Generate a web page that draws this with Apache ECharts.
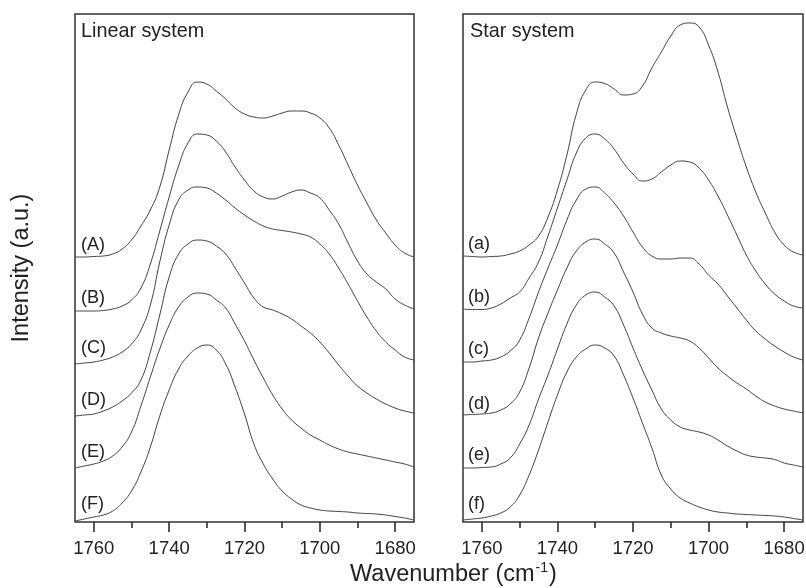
<!doctype html>
<html>
<head>
<meta charset="utf-8">
<title>FTIR carbonyl region</title>
<script src="https://cdn.jsdelivr.net/npm/echarts@6.0.0/dist/echarts.min.js"></script>
<style>
    html,body{
        margin: 0;
        padding: 0;
        background: #fff;
    }
    #chart{
        width: 806px;
        height: 588px;
    }
</style>
</head>
<body>
    <div id="chart"></div>
<script>
    // wavenumber grid (cm-1), read every 2.5 cm-1
    var wavenumber = [1765,1762.5,1760,1757.5,1755,1752.5,1750,1747.5,1745,1742.5,1740,1737.5,1735,1732.5,1730,1727.5,1725,1722.5,1720,1717.5,1715,1712.5,1710,1707.5,1705,1702.5,1700,1697.5,1695,1692.5,1690,1687.5,1685,1682.5,1680,1677.5,1675];
    var majorTicks = [1760,1740,1720,1700,1680];
    var minorTicks = [1750,1730,1710,1690];

    // linear system, stacked intensities (a.u.)
    var linA = [265,265,265.5,266,268,273,282,296,312,335,372,407,430,440,438,431,423,414,408,405,404,406,409,411,411,409,404,394,377,357,337,319,302,289,277,269,265];
    var linB = [211,211,211,211.5,213,216,222,234,258,291,325,356,379,388,387,381,370,355,342,331,325,323,326,330,332,329,324,312,298,279,261,248,240,233,223,217,213];
    var linC = [158,159,160,162,165,170,178,192,217,260,297,322,332,335,334,329,322,314,307,301,296,293,291.5,290,288,285,278,268,254,238,221,205,191,180,172,165,162];
    var linD = [106,107,108,111,115,121,129,142,170,207,245,268,278,282,281,276,268,254,239,224,215,212,208,203,196,189,180,169,157,146,136,129,123,118,114,111,109];
    var linE = [54,56,58,61,66,75,90,116,145,173,197,215,225,229,228,222,214,198,181,162,144,127,113,102,94,87,82,77,73,70,68,66,64,62,60,58,55];
    var linF = [1,3,5,7,11,19,31,50,75,106,132,153,166,174,177,172,158,135,108,78,58,43,31,23,17,14,12,11,10.5,10,9,8.5,8,7,5.5,4,2];

    // star system
    var starA = [266,265.5,265,265.5,266,268,271,277,286,305,332,367,408,432,440,438.5,433,427,428,436,454,470,486,497,499,495,477,450,415,384,355,330,309,290,277,270,267];
    var starB = [213,212.5,212.5,214,218,224,230,244,260,286,314,342,369,384,388,383,373,359,348,341,343,350,357,361,360,354,342,326,307,287,267,251,238,228,221,216,214];
    var starC = [160,160,161,162,165,171,182,204,230,254,277,302,322,333,335,329,319,306,290,275,266,263,263,264,264,258,247,238,226,214,202,191,183,176,170,165,162];
    var starD = [107,107.5,108,109,112,118,130,154,184,209,232,254,271,280,283,278,269,250,230,208,194,189,186,184,181,174,164,154,146,139,133,126,120,116,113,111,109];
    var starE = [54,54,54.5,55,58,64,78,97,123,147,173,198,217,227,230,225,216,197,174,152,132,113,102,95,92,90,87,82,76,71,67,65,64,62.5,59,57,55];
    var starF = [2,3,4,6,9,15,27,47,72,100,127,150,165,173,177,174,166,147,124,99,74,47,33,24,19,15,12,10,9,8,7.5,7,6.5,6,5,3.5,2];

    var linNames = ['(A)','(B)','(C)','(D)','(E)','(F)'];
    var starNames = ['(a)','(b)','(c)','(d)','(e)','(f)'];
    var panelTitles = ['Linear system','Star system'];

    var linSeries = [linA,linB,linC,linD,linE,linF];
    var starSeries = [starA,starB,starC,starD,starE,starF];

    // label heights above the left end of each curve (px)
    var linLift = [12,13,15.5,16,15.5,17];
    var starLift = [12,12,12.5,10.5,13,16];

    var font = 'Liberation Sans, Arial, sans-serif';
    var ink = '#222';

    function pairs(vals){
        return wavenumber.map(function(w,i){ return [w, vals[i]]; });
    }

    function mainAxis(gi){
        return {
            type:'value', gridIndex:gi, min:1675, max:1765, inverse:true,
            axisLine:{show:false},
            splitLine:{show:false},
            axisTick:{show:true, inside:false, length:10, customValues:majorTicks, lineStyle:{color:ink, width:1.5}},
            axisLabel:{customValues:majorTicks, color:ink, fontSize:18.5, fontFamily:font, margin:17,
                formatter:function(v){ return String(v); }}
        };
    }
    function minorAxis(gi){
        return {
            type:'value', gridIndex:gi, min:1675, max:1765, inverse:true, position:'bottom',
            axisLine:{show:false},
            splitLine:{show:false},
            axisLabel:{show:false},
            axisTick:{show:true, inside:false, length:6, customValues:minorTicks, lineStyle:{color:ink, width:1.5}}
        };
    }
    function yAx(gi){
        return {type:'value', gridIndex:gi, min:0, max:508, show:false};
    }

    var series = [];
    linSeries.forEach(function(s,i){
        series.push({name:linNames[i], type:'line', xAxisIndex:0, yAxisIndex:0, data:pairs(s),
            smooth:0.5, showSymbol:false, silent:true, lineStyle:{color:'#444', width:1}});
    });
    starSeries.forEach(function(s,i){
        series.push({name:starNames[i], type:'line', xAxisIndex:2, yAxisIndex:1, data:pairs(s),
            smooth:0.5, showSymbol:false, silent:true, lineStyle:{color:'#444', width:1}});
    });

    var chart = echarts.init(document.getElementById('chart'), null, {renderer:'canvas'});
    chart.setOption({
        animation:false,
        backgroundColor:'#fff',
        grid:[
            {left:75, width:339, top:14, bottom:66, show:true, borderColor:'#333', borderWidth:1.5, containLabel:false, outerBoundsMode:'none'},
            {left:463, width:340, top:14, bottom:66, show:true, borderColor:'#333', borderWidth:1.5, containLabel:false, outerBoundsMode:'none'}
        ],
        xAxis:[mainAxis(0), minorAxis(0), mainAxis(1), minorAxis(1)],
        yAxis:[yAx(0), yAx(1)],
        series:series
    });

    // curve labels sit just above each spectrum's left baseline
    var graphics = [];
    linSeries.forEach(function(s,i){
        var p = chart.convertToPixel({xAxisIndex:0, yAxisIndex:0}, [1765, s[0]]);
        graphics.push({type:'text', x:81, y:p[1]-linLift[i], style:{text:linNames[i], fill:ink, font:'18px '+font, textVerticalAlign:'middle'}});
    });
    starSeries.forEach(function(s,i){
        var p = chart.convertToPixel({xAxisIndex:2, yAxisIndex:1}, [1765, s[0]]);
        graphics.push({type:'text', x:468, y:p[1]-starLift[i], style:{text:starNames[i], fill:ink, font:'18px '+font, textVerticalAlign:'middle'}});
    });
    graphics.push({type:'text', x:81, y:32, style:{text:panelTitles[0], fill:ink, font:'19.8px '+font, textVerticalAlign:'middle'}});
    graphics.push({type:'text', x:470, y:32, style:{text:panelTitles[1], fill:ink, font:'19.8px '+font, textVerticalAlign:'middle'}});
    graphics.push({type:'text', x:350, y:575, style:{
        text:'Wavenumber (cm{sup|-1})', fill:ink, font:'23.5px '+font, textVerticalAlign:'middle',
        rich:{sup:{fontSize:14, fontFamily:font, fill:ink, padding:[0,1,13,1]}}
    }});
    graphics.push({type:'text', x:22, y:268, rotation:Math.PI/2, style:{
        text:'Intensity (a.u.)', fill:ink, font:'23.5px '+font, textAlign:'center', textVerticalAlign:'middle'
    }});
    chart.setOption({graphic:graphics});
</script>
</body>
</html>
